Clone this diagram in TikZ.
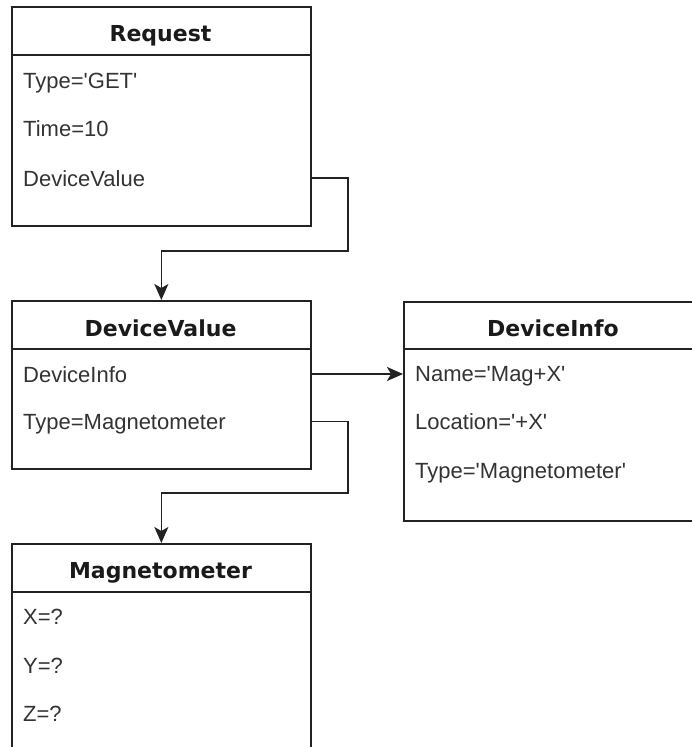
\documentclass[tikz,border=0pt]{standalone}
\usepackage{fontspec}
\setmainfont{Liberation Sans}
\newfontfamily\titlefont{DejaVu Sans}
\usetikzlibrary{arrows.meta}
\definecolor{linecol}{HTML}{222222}
\definecolor{textcol}{HTML}{333333}
\definecolor{titlecol}{HTML}{1A1A1A}
\newcommand{\sq}{\textquotesingle}
\begin{document}
\begin{tikzpicture}[x=1pt,y=-1pt,
  classbox/.style={draw=linecol, line width=1.7pt, anchor=north west, inner sep=0pt, minimum width=299pt},
  divider/.style={draw=linecol, line width=1.7pt},
  titletext/.style={font=\titlefont\bfseries\fontsize{22}{26}\selectfont, text=titlecol, inner sep=0pt, text height=16pt, text depth=0pt},
  field/.style={anchor=west, font=\fontsize{22}{26}\selectfont, text=textcol, inner sep=0pt, text height=16pt, text depth=0pt},
  conn/.style={draw=linecol, line width=1.7pt, -{Stealth[length=16pt,width=14pt,inset=4pt]}}]
\useasboundingbox (0,0) rectangle (692,747);
\clip (0,0) rectangle (692,747);
\fill[white] (0,0) rectangle (692,747);

% Request
\node[classbox, minimum height=219pt] (req) at (11,6) {};
\draw[divider] (req.west |- 0,55) -- (req.east |- 0,55);
\node[titletext] (reqT) at (160.5,33) {Request};
\node[field] (rqType) at (23,80) {Type=\sq GET\sq};
\node[field] (rqTime) at (23,128.5) {Time=10};
\node[field] (rqDV) at (23,178) {DeviceValue};

% DeviceValue
\node[classbox, minimum height=168pt] (dv) at (11,300) {};
\draw[divider] (dv.west |- 0,349) -- (dv.east |- 0,349);
\node[titletext] (dvT) at (160.5,328) {DeviceValue};
\node[field] (dvInfo) at (23,374) {DeviceInfo};
\node[field] (dvType) at (23,421.5) {Type=Magnetometer};

% DeviceInfo
\node[classbox, minimum height=219pt] (di) at (403,301) {};
\draw[divider] (di.west |- 0,349) -- (di.east |- 0,349);
\node[titletext] (diT) at (553,328) {DeviceInfo};
\node[field] (diName) at (415,373) {Name=\sq Mag+X\sq};
\node[field] (diLoc) at (415,421) {Location=\sq +X\sq};
\node[field] (diType) at (415,470) {Type=\sq Magnetometer\sq};

% Magnetometer
\node[classbox, minimum height=240pt] (mag) at (11,543) {};
\draw[divider] (mag.west |- 0,592) -- (mag.east |- 0,592);
\node[titletext] (magT) at (160.5,570) {Magnetometer};
\node[field] (magX) at (23,616.5) {X=?};
\node[field] (magY) at (23,665) {Y=?};
\node[field] (magZ) at (23,713.5) {Z=?};

% connectors
\coordinate (bendA) at (348,251);
\coordinate (bendB) at (348,493);
\draw[conn] (req.east |- rqDV) -| (bendA) -| (dv.north);
\draw[conn] (dv.east |- dvInfo) -- (di.west |- dvInfo);
\draw[conn] (dv.east |- dvType) -| (bendB) -| (mag.north);
\end{tikzpicture}
\end{document}
